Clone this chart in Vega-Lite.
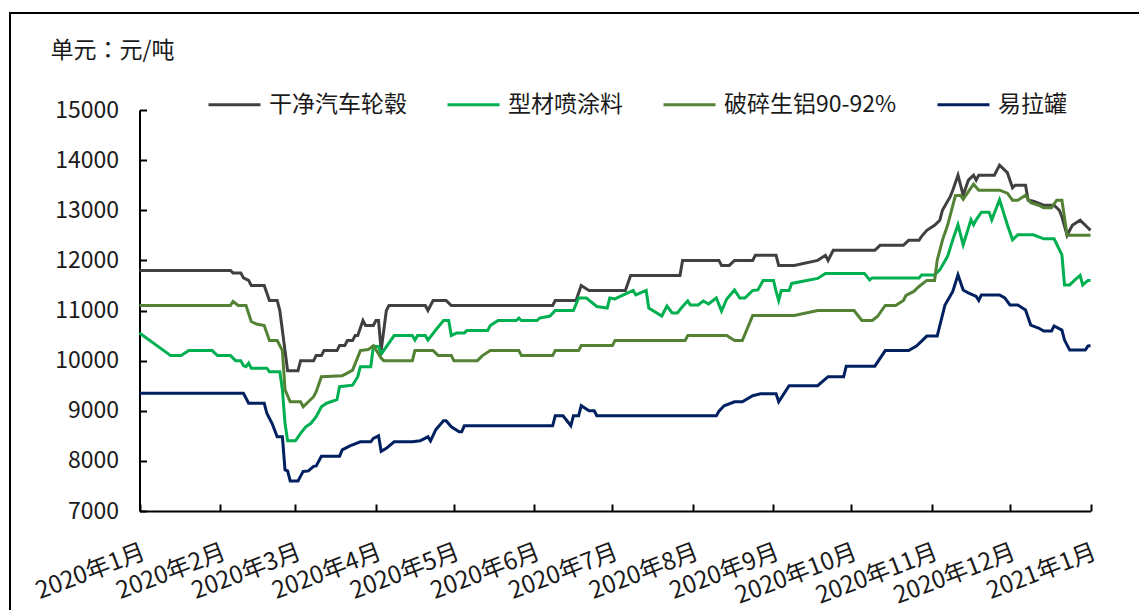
{
  "$schema": "https://vega.github.io/schema/vega-lite/v6.json",
  "width": 1130,
  "height": 598,
  "autosize": {"type": "none"},
  "padding": {"left": 10, "top": 13, "right": -1, "bottom": -1},
  "config": {
    "font": "Noto Sans CJK SC",
    "view": {"stroke": "#000", "strokeWidth": 2},
    "axis": {"grid": false}
  },
  "data": {
    "values": [
      {"date": "2020-01-01", "series": "干净汽车轮毂", "price": 11800},
      {"date": "2020-02-05", "series": "干净汽车轮毂", "price": 11800},
      {"date": "2020-02-06", "series": "干净汽车轮毂", "price": 11750},
      {"date": "2020-02-09", "series": "干净汽车轮毂", "price": 11750},
      {"date": "2020-02-10", "series": "干净汽车轮毂", "price": 11650},
      {"date": "2020-02-12", "series": "干净汽车轮毂", "price": 11600},
      {"date": "2020-02-13", "series": "干净汽车轮毂", "price": 11500},
      {"date": "2020-02-18", "series": "干净汽车轮毂", "price": 11500},
      {"date": "2020-02-19", "series": "干净汽车轮毂", "price": 11350},
      {"date": "2020-02-20", "series": "干净汽车轮毂", "price": 11200},
      {"date": "2020-02-23", "series": "干净汽车轮毂", "price": 11200},
      {"date": "2020-02-24", "series": "干净汽车轮毂", "price": 11000},
      {"date": "2020-02-25", "series": "干净汽车轮毂", "price": 10600},
      {"date": "2020-02-26", "series": "干净汽车轮毂", "price": 10200},
      {"date": "2020-02-27", "series": "干净汽车轮毂", "price": 9800},
      {"date": "2020-03-02", "series": "干净汽车轮毂", "price": 9800},
      {"date": "2020-03-03", "series": "干净汽车轮毂", "price": 10000},
      {"date": "2020-03-08", "series": "干净汽车轮毂", "price": 10000},
      {"date": "2020-03-09", "series": "干净汽车轮毂", "price": 10100},
      {"date": "2020-03-11", "series": "干净汽车轮毂", "price": 10100},
      {"date": "2020-03-12", "series": "干净汽车轮毂", "price": 10200},
      {"date": "2020-03-17", "series": "干净汽车轮毂", "price": 10200},
      {"date": "2020-03-18", "series": "干净汽车轮毂", "price": 10300},
      {"date": "2020-03-20", "series": "干净汽车轮毂", "price": 10300},
      {"date": "2020-03-21", "series": "干净汽车轮毂", "price": 10400},
      {"date": "2020-03-23", "series": "干净汽车轮毂", "price": 10400},
      {"date": "2020-03-24", "series": "干净汽车轮毂", "price": 10500},
      {"date": "2020-03-25", "series": "干净汽车轮毂", "price": 10500},
      {"date": "2020-03-27", "series": "干净汽车轮毂", "price": 10800},
      {"date": "2020-03-28", "series": "干净汽车轮毂", "price": 10700},
      {"date": "2020-03-31", "series": "干净汽车轮毂", "price": 10700},
      {"date": "2020-04-01", "series": "干净汽车轮毂", "price": 10800},
      {"date": "2020-04-02", "series": "干净汽车轮毂", "price": 10800},
      {"date": "2020-04-03", "series": "干净汽车轮毂", "price": 10200},
      {"date": "2020-04-05", "series": "干净汽车轮毂", "price": 11000},
      {"date": "2020-04-06", "series": "干净汽车轮毂", "price": 11100},
      {"date": "2020-04-20", "series": "干净汽车轮毂", "price": 11100},
      {"date": "2020-04-21", "series": "干净汽车轮毂", "price": 11000},
      {"date": "2020-04-23", "series": "干净汽车轮毂", "price": 11200},
      {"date": "2020-04-28", "series": "干净汽车轮毂", "price": 11200},
      {"date": "2020-04-30", "series": "干净汽车轮毂", "price": 11100},
      {"date": "2020-06-08", "series": "干净汽车轮毂", "price": 11100},
      {"date": "2020-06-09", "series": "干净汽车轮毂", "price": 11200},
      {"date": "2020-06-17", "series": "干净汽车轮毂", "price": 11200},
      {"date": "2020-06-19", "series": "干净汽车轮毂", "price": 11500},
      {"date": "2020-06-22", "series": "干净汽车轮毂", "price": 11400},
      {"date": "2020-07-06", "series": "干净汽车轮毂", "price": 11400},
      {"date": "2020-07-08", "series": "干净汽车轮毂", "price": 11700},
      {"date": "2020-07-27", "series": "干净汽车轮毂", "price": 11700},
      {"date": "2020-07-28", "series": "干净汽车轮毂", "price": 12000},
      {"date": "2020-08-11", "series": "干净汽车轮毂", "price": 12000},
      {"date": "2020-08-12", "series": "干净汽车轮毂", "price": 11900},
      {"date": "2020-08-15", "series": "干净汽车轮毂", "price": 11900},
      {"date": "2020-08-17", "series": "干净汽车轮毂", "price": 12000},
      {"date": "2020-08-24", "series": "干净汽车轮毂", "price": 12000},
      {"date": "2020-08-25", "series": "干净汽车轮毂", "price": 12100},
      {"date": "2020-09-02", "series": "干净汽车轮毂", "price": 12100},
      {"date": "2020-09-03", "series": "干净汽车轮毂", "price": 11900},
      {"date": "2020-09-09", "series": "干净汽车轮毂", "price": 11900},
      {"date": "2020-09-18", "series": "干净汽车轮毂", "price": 12000},
      {"date": "2020-09-21", "series": "干净汽车轮毂", "price": 12100},
      {"date": "2020-09-22", "series": "干净汽车轮毂", "price": 12000},
      {"date": "2020-09-24", "series": "干净汽车轮毂", "price": 12200},
      {"date": "2020-10-10", "series": "干净汽车轮毂", "price": 12200},
      {"date": "2020-10-12", "series": "干净汽车轮毂", "price": 12300},
      {"date": "2020-10-21", "series": "干净汽车轮毂", "price": 12300},
      {"date": "2020-10-23", "series": "干净汽车轮毂", "price": 12400},
      {"date": "2020-10-27", "series": "干净汽车轮毂", "price": 12400},
      {"date": "2020-10-28", "series": "干净汽车轮毂", "price": 12480},
      {"date": "2020-10-30", "series": "干净汽车轮毂", "price": 12600},
      {"date": "2020-11-02", "series": "干净汽车轮毂", "price": 12700},
      {"date": "2020-11-04", "series": "干净汽车轮毂", "price": 12800},
      {"date": "2020-11-05", "series": "干净汽车轮毂", "price": 13000},
      {"date": "2020-11-08", "series": "干净汽车轮毂", "price": 13270},
      {"date": "2020-11-09", "series": "干净汽车轮毂", "price": 13400},
      {"date": "2020-11-11", "series": "干净汽车轮毂", "price": 13700},
      {"date": "2020-11-13", "series": "干净汽车轮毂", "price": 13300},
      {"date": "2020-11-15", "series": "干净汽车轮毂", "price": 13600},
      {"date": "2020-11-17", "series": "干净汽车轮毂", "price": 13700},
      {"date": "2020-11-18", "series": "干净汽车轮毂", "price": 13600},
      {"date": "2020-11-19", "series": "干净汽车轮毂", "price": 13700},
      {"date": "2020-11-25", "series": "干净汽车轮毂", "price": 13700},
      {"date": "2020-11-27", "series": "干净汽车轮毂", "price": 13900},
      {"date": "2020-11-30", "series": "干净汽车轮毂", "price": 13750},
      {"date": "2020-12-02", "series": "干净汽车轮毂", "price": 13450},
      {"date": "2020-12-03", "series": "干净汽车轮毂", "price": 13500},
      {"date": "2020-12-07", "series": "干净汽车轮毂", "price": 13500},
      {"date": "2020-12-08", "series": "干净汽车轮毂", "price": 13200},
      {"date": "2020-12-10", "series": "干净汽车轮毂", "price": 13180},
      {"date": "2020-12-14", "series": "干净汽车轮毂", "price": 13100},
      {"date": "2020-12-18", "series": "干净汽车轮毂", "price": 13100},
      {"date": "2020-12-20", "series": "干净汽车轮毂", "price": 13000},
      {"date": "2020-12-21", "series": "干净汽车轮毂", "price": 12870},
      {"date": "2020-12-23", "series": "干净汽车轮毂", "price": 12500},
      {"date": "2020-12-25", "series": "干净汽车轮毂", "price": 12700},
      {"date": "2020-12-28", "series": "干净汽车轮毂", "price": 12800},
      {"date": "2020-12-31", "series": "干净汽车轮毂", "price": 12650},
      {"date": "2021-01-01", "series": "干净汽车轮毂", "price": 12600},

      {"date": "2020-01-01", "series": "型材喷涂料", "price": 10550},
      {"date": "2020-01-13", "series": "型材喷涂料", "price": 10100},
      {"date": "2020-01-17", "series": "型材喷涂料", "price": 10100},
      {"date": "2020-01-20", "series": "型材喷涂料", "price": 10200},
      {"date": "2020-01-29", "series": "型材喷涂料", "price": 10200},
      {"date": "2020-01-31", "series": "型材喷涂料", "price": 10100},
      {"date": "2020-02-05", "series": "型材喷涂料", "price": 10100},
      {"date": "2020-02-07", "series": "型材喷涂料", "price": 10000},
      {"date": "2020-02-09", "series": "型材喷涂料", "price": 10000},
      {"date": "2020-02-10", "series": "型材喷涂料", "price": 9900},
      {"date": "2020-02-11", "series": "型材喷涂料", "price": 9880},
      {"date": "2020-02-12", "series": "型材喷涂料", "price": 9950},
      {"date": "2020-02-13", "series": "型材喷涂料", "price": 9850},
      {"date": "2020-02-19", "series": "型材喷涂料", "price": 9850},
      {"date": "2020-02-20", "series": "型材喷涂料", "price": 9780},
      {"date": "2020-02-24", "series": "型材喷涂料", "price": 9780},
      {"date": "2020-02-25", "series": "型材喷涂料", "price": 9420},
      {"date": "2020-02-26", "series": "型材喷涂料", "price": 8750},
      {"date": "2020-02-27", "series": "型材喷涂料", "price": 8400},
      {"date": "2020-03-01", "series": "型材喷涂料", "price": 8400},
      {"date": "2020-03-03", "series": "型材喷涂料", "price": 8550},
      {"date": "2020-03-05", "series": "型材喷涂料", "price": 8680},
      {"date": "2020-03-07", "series": "型材喷涂料", "price": 8750},
      {"date": "2020-03-09", "series": "型材喷涂料", "price": 8880},
      {"date": "2020-03-11", "series": "型材喷涂料", "price": 9080},
      {"date": "2020-03-13", "series": "型材喷涂料", "price": 9150},
      {"date": "2020-03-17", "series": "型材喷涂料", "price": 9220},
      {"date": "2020-03-18", "series": "型材喷涂料", "price": 9480},
      {"date": "2020-03-23", "series": "型材喷涂料", "price": 9510},
      {"date": "2020-03-25", "series": "型材喷涂料", "price": 9680},
      {"date": "2020-03-26", "series": "型材喷涂料", "price": 9880},
      {"date": "2020-03-30", "series": "型材喷涂料", "price": 9880},
      {"date": "2020-03-31", "series": "型材喷涂料", "price": 10280},
      {"date": "2020-04-02", "series": "型材喷涂料", "price": 10280},
      {"date": "2020-04-03", "series": "型材喷涂料", "price": 10130},
      {"date": "2020-04-08", "series": "型材喷涂料", "price": 10500},
      {"date": "2020-04-15", "series": "型材喷涂料", "price": 10500},
      {"date": "2020-04-16", "series": "型材喷涂料", "price": 10410},
      {"date": "2020-04-17", "series": "型材喷涂料", "price": 10500},
      {"date": "2020-04-20", "series": "型材喷涂料", "price": 10500},
      {"date": "2020-04-21", "series": "型材喷涂料", "price": 10410},
      {"date": "2020-04-24", "series": "型材喷涂料", "price": 10610},
      {"date": "2020-04-27", "series": "型材喷涂料", "price": 10800},
      {"date": "2020-04-29", "series": "型材喷涂料", "price": 10800},
      {"date": "2020-04-30", "series": "型材喷涂料", "price": 10500},
      {"date": "2020-05-02", "series": "型材喷涂料", "price": 10550},
      {"date": "2020-05-05", "series": "型材喷涂料", "price": 10550},
      {"date": "2020-05-06", "series": "型材喷涂料", "price": 10600},
      {"date": "2020-05-14", "series": "型材喷涂料", "price": 10600},
      {"date": "2020-05-15", "series": "型材喷涂料", "price": 10700},
      {"date": "2020-05-18", "series": "型材喷涂料", "price": 10800},
      {"date": "2020-05-25", "series": "型材喷涂料", "price": 10800},
      {"date": "2020-05-26", "series": "型材喷涂料", "price": 10850},
      {"date": "2020-05-27", "series": "型材喷涂料", "price": 10800},
      {"date": "2020-06-02", "series": "型材喷涂料", "price": 10800},
      {"date": "2020-06-03", "series": "型材喷涂料", "price": 10850},
      {"date": "2020-06-07", "series": "型材喷涂料", "price": 10890},
      {"date": "2020-06-09", "series": "型材喷涂料", "price": 11000},
      {"date": "2020-06-16", "series": "型材喷涂料", "price": 11000},
      {"date": "2020-06-18", "series": "型材喷涂料", "price": 11250},
      {"date": "2020-06-21", "series": "型材喷涂料", "price": 11250},
      {"date": "2020-06-25", "series": "型材喷涂料", "price": 11080},
      {"date": "2020-06-29", "series": "型材喷涂料", "price": 11050},
      {"date": "2020-06-30", "series": "型材喷涂料", "price": 11250},
      {"date": "2020-07-02", "series": "型材喷涂料", "price": 11230},
      {"date": "2020-07-04", "series": "型材喷涂料", "price": 11280},
      {"date": "2020-07-09", "series": "型材喷涂料", "price": 11400},
      {"date": "2020-07-10", "series": "型材喷涂料", "price": 11310},
      {"date": "2020-07-14", "series": "型材喷涂料", "price": 11400},
      {"date": "2020-07-15", "series": "型材喷涂料", "price": 11050},
      {"date": "2020-07-20", "series": "型材喷涂料", "price": 10890},
      {"date": "2020-07-22", "series": "型材喷涂料", "price": 11090},
      {"date": "2020-07-24", "series": "型材喷涂料", "price": 10950},
      {"date": "2020-07-26", "series": "型材喷涂料", "price": 10950},
      {"date": "2020-07-28", "series": "型材喷涂料", "price": 11080},
      {"date": "2020-07-30", "series": "型材喷涂料", "price": 11190},
      {"date": "2020-07-31", "series": "型材喷涂料", "price": 11110},
      {"date": "2020-08-03", "series": "型材喷涂料", "price": 11110},
      {"date": "2020-08-05", "series": "型材喷涂料", "price": 11190},
      {"date": "2020-08-07", "series": "型材喷涂料", "price": 11130},
      {"date": "2020-08-10", "series": "型材喷涂料", "price": 11250},
      {"date": "2020-08-12", "series": "型材喷涂料", "price": 10990},
      {"date": "2020-08-14", "series": "型材喷涂料", "price": 11230},
      {"date": "2020-08-17", "series": "型材喷涂料", "price": 11410},
      {"date": "2020-08-19", "series": "型材喷涂料", "price": 11250},
      {"date": "2020-08-21", "series": "型材喷涂料", "price": 11250},
      {"date": "2020-08-24", "series": "型材喷涂料", "price": 11400},
      {"date": "2020-08-26", "series": "型材喷涂料", "price": 11410},
      {"date": "2020-08-28", "series": "型材喷涂料", "price": 11600},
      {"date": "2020-09-01", "series": "型材喷涂料", "price": 11600},
      {"date": "2020-09-02", "series": "型材喷涂料", "price": 11380},
      {"date": "2020-09-03", "series": "型材喷涂料", "price": 11200},
      {"date": "2020-09-04", "series": "型材喷涂料", "price": 11400},
      {"date": "2020-09-07", "series": "型材喷涂料", "price": 11400},
      {"date": "2020-09-08", "series": "型材喷涂料", "price": 11540},
      {"date": "2020-09-18", "series": "型材喷涂料", "price": 11640},
      {"date": "2020-09-21", "series": "型材喷涂料", "price": 11740},
      {"date": "2020-10-06", "series": "型材喷涂料", "price": 11740},
      {"date": "2020-10-08", "series": "型材喷涂料", "price": 11610},
      {"date": "2020-10-09", "series": "型材喷涂料", "price": 11650},
      {"date": "2020-10-27", "series": "型材喷涂料", "price": 11650},
      {"date": "2020-10-28", "series": "型材喷涂料", "price": 11710},
      {"date": "2020-11-02", "series": "型材喷涂料", "price": 11710},
      {"date": "2020-11-04", "series": "型材喷涂料", "price": 11810},
      {"date": "2020-11-07", "series": "型材喷涂料", "price": 12080},
      {"date": "2020-11-09", "series": "型材喷涂料", "price": 12410},
      {"date": "2020-11-11", "series": "型材喷涂料", "price": 12710},
      {"date": "2020-11-13", "series": "型材喷涂料", "price": 12310},
      {"date": "2020-11-16", "series": "型材喷涂料", "price": 12810},
      {"date": "2020-11-17", "series": "型材喷涂料", "price": 12710},
      {"date": "2020-11-18", "series": "型材喷涂料", "price": 12810},
      {"date": "2020-11-20", "series": "型材喷涂料", "price": 12960},
      {"date": "2020-11-23", "series": "型材喷涂料", "price": 12960},
      {"date": "2020-11-24", "series": "型材喷涂料", "price": 12810},
      {"date": "2020-11-27", "series": "型材喷涂料", "price": 13210},
      {"date": "2020-11-30", "series": "型材喷涂料", "price": 12710},
      {"date": "2020-12-02", "series": "型材喷涂料", "price": 12410},
      {"date": "2020-12-04", "series": "型材喷涂料", "price": 12510},
      {"date": "2020-12-10", "series": "型材喷涂料", "price": 12510},
      {"date": "2020-12-14", "series": "型材喷涂料", "price": 12430},
      {"date": "2020-12-18", "series": "型材喷涂料", "price": 12430},
      {"date": "2020-12-21", "series": "型材喷涂料", "price": 12110},
      {"date": "2020-12-22", "series": "型材喷涂料", "price": 11510},
      {"date": "2020-12-24", "series": "型材喷涂料", "price": 11510},
      {"date": "2020-12-26", "series": "型材喷涂料", "price": 11610},
      {"date": "2020-12-28", "series": "型材喷涂料", "price": 11700},
      {"date": "2020-12-29", "series": "型材喷涂料", "price": 11510},
      {"date": "2020-12-31", "series": "型材喷涂料", "price": 11600},
      {"date": "2021-01-01", "series": "型材喷涂料", "price": 11600},

      {"date": "2020-01-01", "series": "破碎生铝90-92%", "price": 11100},
      {"date": "2020-02-05", "series": "破碎生铝90-92%", "price": 11100},
      {"date": "2020-02-06", "series": "破碎生铝90-92%", "price": 11180},
      {"date": "2020-02-08", "series": "破碎生铝90-92%", "price": 11100},
      {"date": "2020-02-11", "series": "破碎生铝90-92%", "price": 11100},
      {"date": "2020-02-13", "series": "破碎生铝90-92%", "price": 10780},
      {"date": "2020-02-15", "series": "破碎生铝90-92%", "price": 10730},
      {"date": "2020-02-18", "series": "破碎生铝90-92%", "price": 10700},
      {"date": "2020-02-20", "series": "破碎生铝90-92%", "price": 10400},
      {"date": "2020-02-23", "series": "破碎生铝90-92%", "price": 10400},
      {"date": "2020-02-25", "series": "破碎生铝90-92%", "price": 10200},
      {"date": "2020-02-26", "series": "破碎生铝90-92%", "price": 9420},
      {"date": "2020-02-28", "series": "破碎生铝90-92%", "price": 9180},
      {"date": "2020-03-03", "series": "破碎生铝90-92%", "price": 9180},
      {"date": "2020-03-04", "series": "破碎生铝90-92%", "price": 9080},
      {"date": "2020-03-06", "series": "破碎生铝90-92%", "price": 9180},
      {"date": "2020-03-08", "series": "破碎生铝90-92%", "price": 9280},
      {"date": "2020-03-09", "series": "破碎生铝90-92%", "price": 9380},
      {"date": "2020-03-11", "series": "破碎生铝90-92%", "price": 9680},
      {"date": "2020-03-19", "series": "破碎生铝90-92%", "price": 9700},
      {"date": "2020-03-21", "series": "破碎生铝90-92%", "price": 9750},
      {"date": "2020-03-23", "series": "破碎生铝90-92%", "price": 9810},
      {"date": "2020-03-26", "series": "破碎生铝90-92%", "price": 10200},
      {"date": "2020-03-29", "series": "破碎生铝90-92%", "price": 10220},
      {"date": "2020-03-31", "series": "破碎生铝90-92%", "price": 10300},
      {"date": "2020-04-03", "series": "破碎生铝90-92%", "price": 10050},
      {"date": "2020-04-04", "series": "破碎生铝90-92%", "price": 10000},
      {"date": "2020-04-15", "series": "破碎生铝90-92%", "price": 10000},
      {"date": "2020-04-16", "series": "破碎生铝90-92%", "price": 10200},
      {"date": "2020-04-23", "series": "破碎生铝90-92%", "price": 10200},
      {"date": "2020-04-25", "series": "破碎生铝90-92%", "price": 10100},
      {"date": "2020-04-30", "series": "破碎生铝90-92%", "price": 10100},
      {"date": "2020-05-01", "series": "破碎生铝90-92%", "price": 10000},
      {"date": "2020-05-10", "series": "破碎生铝90-92%", "price": 10000},
      {"date": "2020-05-12", "series": "破碎生铝90-92%", "price": 10100},
      {"date": "2020-05-15", "series": "破碎生铝90-92%", "price": 10200},
      {"date": "2020-05-26", "series": "破碎生铝90-92%", "price": 10200},
      {"date": "2020-05-27", "series": "破碎生铝90-92%", "price": 10100},
      {"date": "2020-06-08", "series": "破碎生铝90-92%", "price": 10100},
      {"date": "2020-06-09", "series": "破碎生铝90-92%", "price": 10200},
      {"date": "2020-06-18", "series": "破碎生铝90-92%", "price": 10200},
      {"date": "2020-06-19", "series": "破碎生铝90-92%", "price": 10300},
      {"date": "2020-07-01", "series": "破碎生铝90-92%", "price": 10300},
      {"date": "2020-07-02", "series": "破碎生铝90-92%", "price": 10400},
      {"date": "2020-07-29", "series": "破碎生铝90-92%", "price": 10400},
      {"date": "2020-07-30", "series": "破碎生铝90-92%", "price": 10500},
      {"date": "2020-08-14", "series": "破碎生铝90-92%", "price": 10500},
      {"date": "2020-08-17", "series": "破碎生铝90-92%", "price": 10400},
      {"date": "2020-08-20", "series": "破碎生铝90-92%", "price": 10400},
      {"date": "2020-08-24", "series": "破碎生铝90-92%", "price": 10900},
      {"date": "2020-09-09", "series": "破碎生铝90-92%", "price": 10900},
      {"date": "2020-09-18", "series": "破碎生铝90-92%", "price": 11000},
      {"date": "2020-10-02", "series": "破碎生铝90-92%", "price": 11000},
      {"date": "2020-10-05", "series": "破碎生铝90-92%", "price": 10800},
      {"date": "2020-10-09", "series": "破碎生铝90-92%", "price": 10800},
      {"date": "2020-10-11", "series": "破碎生铝90-92%", "price": 10880},
      {"date": "2020-10-14", "series": "破碎生铝90-92%", "price": 11100},
      {"date": "2020-10-18", "series": "破碎生铝90-92%", "price": 11100},
      {"date": "2020-10-21", "series": "破碎生铝90-92%", "price": 11200},
      {"date": "2020-10-22", "series": "破碎生铝90-92%", "price": 11300},
      {"date": "2020-10-25", "series": "破碎生铝90-92%", "price": 11380},
      {"date": "2020-10-27", "series": "破碎生铝90-92%", "price": 11480},
      {"date": "2020-10-30", "series": "破碎生铝90-92%", "price": 11600},
      {"date": "2020-11-02", "series": "破碎生铝90-92%", "price": 11600},
      {"date": "2020-11-03", "series": "破碎生铝90-92%", "price": 12000},
      {"date": "2020-11-05", "series": "破碎生铝90-92%", "price": 12400},
      {"date": "2020-11-07", "series": "破碎生铝90-92%", "price": 12700},
      {"date": "2020-11-10", "series": "破碎生铝90-92%", "price": 13290},
      {"date": "2020-11-12", "series": "破碎生铝90-92%", "price": 13300},
      {"date": "2020-11-13", "series": "破碎生铝90-92%", "price": 13220},
      {"date": "2020-11-15", "series": "破碎生铝90-92%", "price": 13370},
      {"date": "2020-11-17", "series": "破碎生铝90-92%", "price": 13520},
      {"date": "2020-11-19", "series": "破碎生铝90-92%", "price": 13400},
      {"date": "2020-11-27", "series": "破碎生铝90-92%", "price": 13400},
      {"date": "2020-11-30", "series": "破碎生铝90-92%", "price": 13340},
      {"date": "2020-12-02", "series": "破碎生铝90-92%", "price": 13200},
      {"date": "2020-12-04", "series": "破碎生铝90-92%", "price": 13200},
      {"date": "2020-12-07", "series": "破碎生铝90-92%", "price": 13300},
      {"date": "2020-12-09", "series": "破碎生铝90-92%", "price": 13150},
      {"date": "2020-12-12", "series": "破碎生铝90-92%", "price": 13100},
      {"date": "2020-12-14", "series": "破碎生铝90-92%", "price": 13050},
      {"date": "2020-12-17", "series": "破碎生铝90-92%", "price": 13050},
      {"date": "2020-12-19", "series": "破碎生铝90-92%", "price": 13200},
      {"date": "2020-12-21", "series": "破碎生铝90-92%", "price": 13200},
      {"date": "2020-12-23", "series": "破碎生铝90-92%", "price": 12500},
      {"date": "2021-01-01", "series": "破碎生铝90-92%", "price": 12500},

      {"date": "2020-01-01", "series": "易拉罐", "price": 9350},
      {"date": "2020-02-10", "series": "易拉罐", "price": 9350},
      {"date": "2020-02-12", "series": "易拉罐", "price": 9150},
      {"date": "2020-02-18", "series": "易拉罐", "price": 9150},
      {"date": "2020-02-19", "series": "易拉罐", "price": 8950},
      {"date": "2020-02-21", "series": "易拉罐", "price": 8750},
      {"date": "2020-02-23", "series": "易拉罐", "price": 8480},
      {"date": "2020-02-25", "series": "易拉罐", "price": 8480},
      {"date": "2020-02-26", "series": "易拉罐", "price": 7820},
      {"date": "2020-02-27", "series": "易拉罐", "price": 7800},
      {"date": "2020-02-28", "series": "易拉罐", "price": 7600},
      {"date": "2020-03-02", "series": "易拉罐", "price": 7600},
      {"date": "2020-03-04", "series": "易拉罐", "price": 7790},
      {"date": "2020-03-06", "series": "易拉罐", "price": 7800},
      {"date": "2020-03-08", "series": "易拉罐", "price": 7890},
      {"date": "2020-03-09", "series": "易拉罐", "price": 7900},
      {"date": "2020-03-11", "series": "易拉罐", "price": 8090},
      {"date": "2020-03-18", "series": "易拉罐", "price": 8090},
      {"date": "2020-03-19", "series": "易拉罐", "price": 8220},
      {"date": "2020-03-22", "series": "易拉罐", "price": 8300},
      {"date": "2020-03-26", "series": "易拉罐", "price": 8380},
      {"date": "2020-03-30", "series": "易拉罐", "price": 8380},
      {"date": "2020-03-31", "series": "易拉罐", "price": 8450},
      {"date": "2020-04-02", "series": "易拉罐", "price": 8500},
      {"date": "2020-04-03", "series": "易拉罐", "price": 8190},
      {"date": "2020-04-05", "series": "易拉罐", "price": 8250},
      {"date": "2020-04-08", "series": "易拉罐", "price": 8380},
      {"date": "2020-04-15", "series": "易拉罐", "price": 8380},
      {"date": "2020-04-18", "series": "易拉罐", "price": 8400},
      {"date": "2020-04-21", "series": "易拉罐", "price": 8480},
      {"date": "2020-04-22", "series": "易拉罐", "price": 8400},
      {"date": "2020-04-24", "series": "易拉罐", "price": 8620},
      {"date": "2020-04-27", "series": "易拉罐", "price": 8800},
      {"date": "2020-04-28", "series": "易拉罐", "price": 8800},
      {"date": "2020-04-30", "series": "易拉罐", "price": 8680},
      {"date": "2020-05-03", "series": "易拉罐", "price": 8580},
      {"date": "2020-05-04", "series": "易拉罐", "price": 8580},
      {"date": "2020-05-05", "series": "易拉罐", "price": 8700},
      {"date": "2020-06-08", "series": "易拉罐", "price": 8700},
      {"date": "2020-06-09", "series": "易拉罐", "price": 8900},
      {"date": "2020-06-12", "series": "易拉罐", "price": 8900},
      {"date": "2020-06-15", "series": "易拉罐", "price": 8700},
      {"date": "2020-06-16", "series": "易拉罐", "price": 8900},
      {"date": "2020-06-18", "series": "易拉罐", "price": 8900},
      {"date": "2020-06-19", "series": "易拉罐", "price": 9100},
      {"date": "2020-06-22", "series": "易拉罐", "price": 9000},
      {"date": "2020-06-24", "series": "易拉罐", "price": 9000},
      {"date": "2020-06-25", "series": "易拉罐", "price": 8900},
      {"date": "2020-08-10", "series": "易拉罐", "price": 8900},
      {"date": "2020-08-11", "series": "易拉罐", "price": 8990},
      {"date": "2020-08-13", "series": "易拉罐", "price": 9100},
      {"date": "2020-08-17", "series": "易拉罐", "price": 9180},
      {"date": "2020-08-20", "series": "易拉罐", "price": 9180},
      {"date": "2020-08-24", "series": "易拉罐", "price": 9300},
      {"date": "2020-08-27", "series": "易拉罐", "price": 9340},
      {"date": "2020-09-02", "series": "易拉罐", "price": 9340},
      {"date": "2020-09-03", "series": "易拉罐", "price": 9180},
      {"date": "2020-09-07", "series": "易拉罐", "price": 9500},
      {"date": "2020-09-18", "series": "易拉罐", "price": 9500},
      {"date": "2020-09-22", "series": "易拉罐", "price": 9680},
      {"date": "2020-09-28", "series": "易拉罐", "price": 9680},
      {"date": "2020-09-29", "series": "易拉罐", "price": 9890},
      {"date": "2020-10-10", "series": "易拉罐", "price": 9890},
      {"date": "2020-10-14", "series": "易拉罐", "price": 10200},
      {"date": "2020-10-23", "series": "易拉罐", "price": 10200},
      {"date": "2020-10-26", "series": "易拉罐", "price": 10290},
      {"date": "2020-10-28", "series": "易拉罐", "price": 10390},
      {"date": "2020-10-30", "series": "易拉罐", "price": 10490},
      {"date": "2020-11-03", "series": "易拉罐", "price": 10490},
      {"date": "2020-11-06", "series": "易拉罐", "price": 11110},
      {"date": "2020-11-09", "series": "易拉罐", "price": 11380},
      {"date": "2020-11-11", "series": "易拉罐", "price": 11710},
      {"date": "2020-11-13", "series": "易拉罐", "price": 11410},
      {"date": "2020-11-15", "series": "易拉罐", "price": 11350},
      {"date": "2020-11-18", "series": "易拉罐", "price": 11280},
      {"date": "2020-11-19", "series": "易拉罐", "price": 11200},
      {"date": "2020-11-20", "series": "易拉罐", "price": 11310},
      {"date": "2020-11-27", "series": "易拉罐", "price": 11310},
      {"date": "2020-11-29", "series": "易拉罐", "price": 11250},
      {"date": "2020-12-01", "series": "易拉罐", "price": 11110},
      {"date": "2020-12-04", "series": "易拉罐", "price": 11110},
      {"date": "2020-12-07", "series": "易拉罐", "price": 11010},
      {"date": "2020-12-09", "series": "易拉罐", "price": 10710},
      {"date": "2020-12-12", "series": "易拉罐", "price": 10650},
      {"date": "2020-12-14", "series": "易拉罐", "price": 10590},
      {"date": "2020-12-17", "series": "易拉罐", "price": 10590},
      {"date": "2020-12-18", "series": "易拉罐", "price": 10690},
      {"date": "2020-12-21", "series": "易拉罐", "price": 10610},
      {"date": "2020-12-22", "series": "易拉罐", "price": 10410},
      {"date": "2020-12-24", "series": "易拉罐", "price": 10210},
      {"date": "2020-12-30", "series": "易拉罐", "price": 10210},
      {"date": "2020-12-31", "series": "易拉罐", "price": 10290},
      {"date": "2021-01-01", "series": "易拉罐", "price": 10300}
    ]
  },
  "mark": {"type": "line", "strokeWidth": 3},
  "encoding": {
    "x": {
      "field": "date",
      "type": "temporal",
      "scale": {
        "type": "utc",
        "domain": [
          {"year": 2020, "month": 1, "date": 1, "utc": true},
          {"year": 2021, "month": 1, "date": 1, "utc": true}
        ],
        "range": [129.5, 1080.5],
        "nice": false
      },
      "axis": {
        "title": null,
        "orient": "bottom",
        "offset": -100,
        "tickCount": {"interval": "month", "step": 1},
        "labelExpr": "utcFormat(datum.value, '%Y年%-m月')",
        "labelAngle": -21,
        "labelAlign": "right",
        "labelBaseline": "top",
        "labelPadding": 36,
        "labelOverlap": false,
        "labelFlush": false,
        "labelBound": false,
        "labelFontSize": 24,
        "labelColor": "#1a1a1a",
        "domainColor": "#000",
        "domainWidth": 2,
        "tickColor": "#000",
        "tickWidth": 2,
        "tickSize": -7
      }
    },
    "y": {
      "field": "price",
      "type": "quantitative",
      "scale": {"domain": [7000, 15000], "range": [498, 97], "nice": false, "zero": false},
      "axis": {
        "orient": "left",
        "offset": -129.5,
        "values": [7000, 8000, 9000, 10000, 11000, 12000, 13000, 14000, 15000],
        "format": "d",
        "title": "单元：元/吨",
        "titleFont": "Noto Sans CJK TC",
        "titleAngle": 0,
        "titleAlign": "left",
        "titleBaseline": "middle",
        "titleX": -89.5,
        "titleY": 37,
        "titleFontSize": 23,
        "titleFontWeight": "normal",
        "titleColor": "#1a1a1a",
        "labelFontSize": 23,
        "labelColor": "#1a1a1a",
        "labelPadding": 28,
        "domainColor": "#000",
        "domainWidth": 2,
        "tickColor": "#000",
        "tickWidth": 2,
        "tickSize": -7
      }
    },
    "color": {
      "field": "series",
      "type": "nominal",
      "scale": {
        "domain": ["干净汽车轮毂", "型材喷涂料", "破碎生铝90-92%", "易拉罐"],
        "range": ["#404040", "#00B050", "#548235", "#002060"]
      },
      "legend": {
        "title": null,
        "orient": "none",
        "legendX": 197,
        "legendY": 64,
        "direction": "horizontal",
        "columns": 4,
        "columnPadding": 34,
        "symbolType": "stroke",
        "symbolSize": 2704,
        "symbolStrokeWidth": 3,
        "labelFontSize": 23,
        "labelColor": "#1a1a1a",
        "labelOffset": 7,
        "labelLimit": 400,
        "padding": 0
      }
    }
  }
}
